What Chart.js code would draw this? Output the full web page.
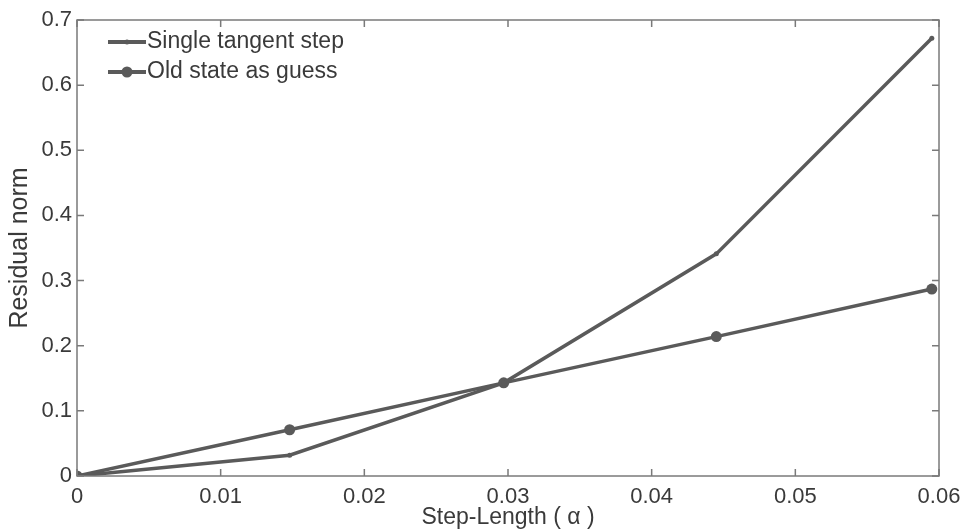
<!DOCTYPE html>
<html>
<head>
<meta charset="utf-8">
<script src="https://cdn.jsdelivr.net/npm/chart.js@4.4.1/dist/chart.umd.min.js"></script>
<style>
  html, body { margin: 0; padding: 0; background: #fff; }
  #wrap { width: 965px; height: 531px; }
</style>
</head>
<body>
<div id="wrap"><canvas id="residualChart"></canvas></div>
<script>
const stepLengths = [0, 0.0148, 0.0297, 0.0445, 0.0595];
const tangentStep = [0, 0.032, 0.143, 0.341, 0.672];
const oldStateGuess = [0, 0.071, 0.143, 0.214, 0.287];
const xTicks = [0, 0.01, 0.02, 0.03, 0.04, 0.05, 0.06];
const yTicks = [0, 0.1, 0.2, 0.3, 0.4, 0.5, 0.6, 0.7];

const lineColor = "#5a5a5a";
const axisColor = "#7a7a7a";
const textColor = "#3a3a3a";
const fontFamily = "'Liberation Sans', Arial, sans-serif";

function toPoints(ys) {
	return stepLengths.map((x, i) => ({ x: x, y: ys[i] }));
}

// MATLAB style box with inward ticks on all four sides
const boxPlugin = {
	id: "boxPlugin",
	afterDraw(chart) {
		const ctx = chart.ctx;
		const a = chart.chartArea;
		const xs = chart.scales.x;
		const ys = chart.scales.y;
		ctx.save();
		ctx.strokeStyle = axisColor;
		ctx.lineWidth = 1.5;
		ctx.strokeRect(a.left, a.top, a.right - a.left, a.bottom - a.top);
		ctx.beginPath();
		xTicks.forEach(v => {
			const px = xs.getPixelForValue(v);
			ctx.moveTo(px, a.bottom); ctx.lineTo(px, a.bottom - 7);
			ctx.moveTo(px, a.top); ctx.lineTo(px, a.top + 7);
		});
		yTicks.forEach(v => {
			const py = ys.getPixelForValue(v);
			ctx.moveTo(a.left, py); ctx.lineTo(a.left + 7, py);
			ctx.moveTo(a.right, py); ctx.lineTo(a.right - 7, py);
		});
		ctx.stroke();

		// legend in the upper left corner
		const items = chart.data.datasets;
		ctx.font = "23px " + fontFamily;
		ctx.textBaseline = "middle";
		items.forEach((ds, i) => {
			const y = 42 + i * 30;
			const x0 = 108, x1 = 146;
			ctx.strokeStyle = ds.borderColor;
			ctx.lineWidth = 4;
			ctx.beginPath();
			ctx.moveTo(x0, y); ctx.lineTo(x1, y);
			ctx.stroke();
			ctx.fillStyle = ds.pointBackgroundColor;
			ctx.beginPath();
			ctx.arc((x0 + x1) / 2, y, ds.pointRadius, 0, Math.PI * 2);
			ctx.fill();
			ctx.fillStyle = textColor;
			ctx.fillText(ds.label, x1 + 1, y);
		});
		ctx.restore();
	}
};

new Chart(document.getElementById("residualChart"), {
	type: "scatter",
	data: {
		datasets: [
			{
				label: "Single tangent step",
				data: toPoints(tangentStep),
				showLine: true,
				borderColor: lineColor,
				borderWidth: 3.5,
				pointRadius: 2.5,
				pointBackgroundColor: lineColor,
				pointBorderWidth: 0
			},
			{
				label: "Old state as guess",
				data: toPoints(oldStateGuess),
				showLine: true,
				borderColor: lineColor,
				borderWidth: 3.5,
				pointRadius: 5.5,
				pointBackgroundColor: lineColor,
				pointBorderWidth: 0
			}
		]
	},
	options: {
		responsive: true,
		maintainAspectRatio: false,
		animation: false,
		layout: { padding: { top: 20, right: 26, bottom: 0, left: 0 } },
		plugins: {
			legend: { display: false },
			tooltip: { enabled: false }
		},
		scales: {
			x: {
				type: "linear",
				min: 0,
				max: 0.06,
				afterFit(scale) {
					scale.height = 55;
					scale.paddingLeft = 0;
					scale.paddingRight = 0;
				},
				afterBuildTicks(scale) { scale.ticks = xTicks.map(v => ({ value: v })); },
				grid: { display: false, drawTicks: false },
				border: { display: false },
				ticks: {
					padding: 8,
					color: textColor,
					font: { family: fontFamily, size: 22 },
					callback: v => String(+v.toFixed(2))
				},
				title: {
					display: true,
					text: "Step-Length ( \u03b1 )",
					color: textColor,
					padding: 0,
					font: { family: fontFamily, size: 23 }
				}
			},
			y: {
				min: 0,
				max: 0.7,
				afterFit(scale) {
					scale.width = 77;
					scale.paddingTop = 0;
					scale.paddingBottom = 0;
				},
				afterBuildTicks(scale) { scale.ticks = yTicks.map(v => ({ value: v })); },
				grid: { display: false, drawTicks: false },
				border: { display: false },
				ticks: {
					padding: 5,
					color: textColor,
					font: { family: fontFamily, size: 22 },
					callback: v => String(+v.toFixed(1))
				},
				title: {
					display: true,
					text: "Residual norm",
					color: textColor,
					padding: 5,
					font: { family: fontFamily, size: 25 }
				}
			}
		}
	},
	plugins: [boxPlugin]
});
</script>
</body>
</html>
